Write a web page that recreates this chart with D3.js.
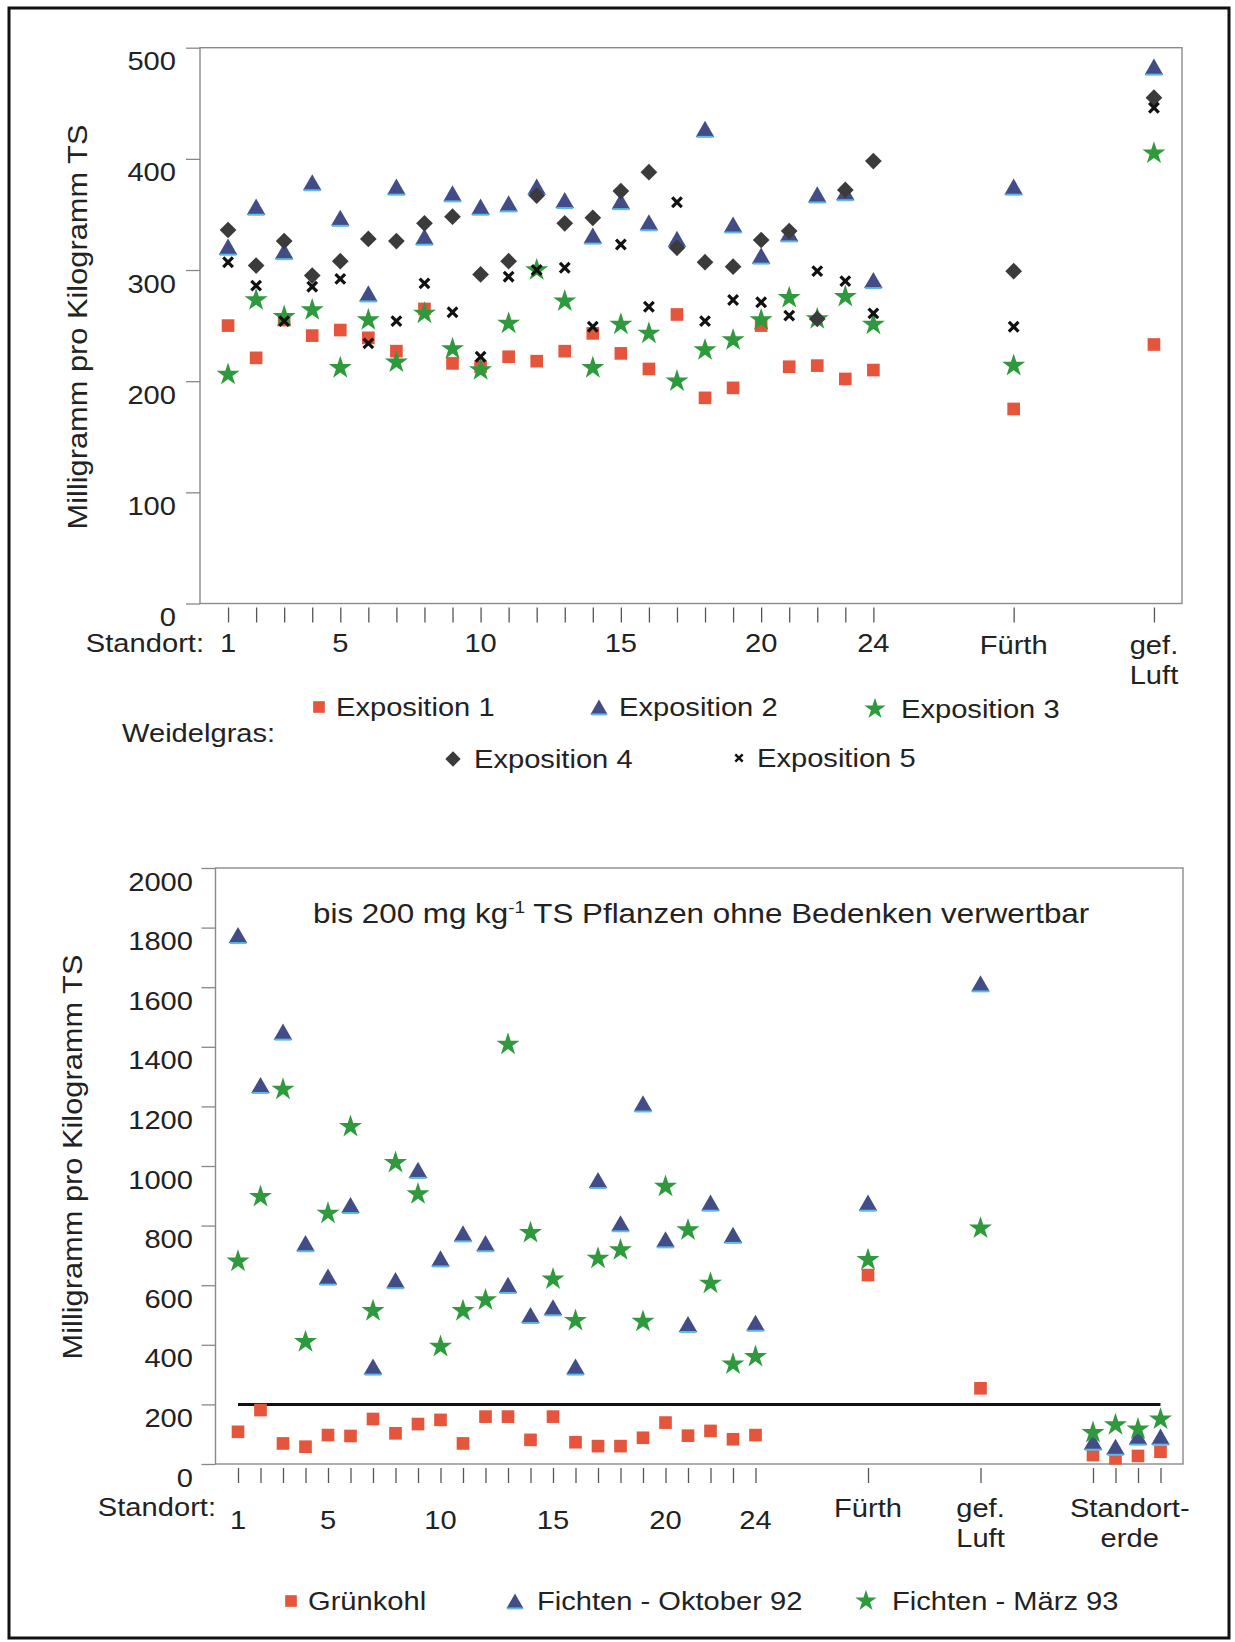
<!DOCTYPE html>
<html lang="de">
<head>
    <meta charset="UTF-8">
    <title>Weidelgras, Grünkohl und Fichten</title>
    <script src="https://d3js.org/d3.v7.min.js"></script>
    <style>
        body { margin: 0; background: #fff; }
        svg text { font-family: "Liberation Sans", Arial, Helvetica, sans-serif; fill: #222; }
    </style>
</head>
<body>
<div id="chart"></div>
<script>

// ---- data: upper panel (Weidelgras) ----
const weidelCategories = d3.range(1, 25).map(String).concat(["Fürth", "gef. Luft"]);
const exposition1 = [250, 221, 255, 241, 246, 239, 227, 265, 216, 213, 222, 218, 227, 243, 225, 211, 260, 185, 194, 250, 213, 214, 202, 210, 175, 233];
const exposition2 = [321, 357, 317, 379, 347, 279, 375, 330, 369, 357, 360, 375, 363, 331, 362, 343, 328, 427, 341, 313, 333, 368, 370, 291, 375, 483];
const exposition3 = [206, 273, 258, 264, 212, 255, 217, 261, 229, 210, 252, 300, 272, 212, 251, 243, 200, 228, 237, 255, 275, 256, 276, 251, 214, 405];
const exposition4 = [336, 304, 326, 295, 308, 328, 326, 342, 348, 296, 308, 367, 342, 347, 371, 388, 320, 307, 303, 327, 335, 256, 372, 398, 299, 455];
const exposition5 = [307, 286, 254, 285, 292, 234, 254, 288, 262, 222, 294, 300, 302, 249, 323, 267, 361, 254, 273, 271, 259, 299, 290, 261, 249, 446];
const weidelTicks = [0, 100, 200, 300, 400, 500];
const weidelXLabels = ["1", "5", "10", "15", "20", "24", "Fürth", "gef. Luft"];

// ---- data: lower panel (Grünkohl / Fichten) ----
const pflanzenCategories = d3.range(1, 25).map(String).concat(["Fürth", "gef. Luft", "Erde 1", "Erde 2", "Erde 3", "Erde 4"]);
const gruenkohl = [108, 181, 69, 58, 97, 94, 151, 103, 134, 148, 69, 159, 159, 81, 159, 73, 60, 60, 88, 139, 95, 111, 83, 97, 634, 254, 30, 19, 27, 41];
const fichtenOkt92 = [1775, 1272, 1451, 741, 629, 869, 327, 617, 987, 690, 774, 741, 601, 500, 526, 327, 953, 808, 1210, 754, 470, 877, 769, 474, 877, 1613, 75, 58, 92, 92];
const fichtenMaerz93 = [680, 897, 1257, 410, 841, 1132, 514, 1011, 906, 394, 514, 550, 1408, 776, 620, 481, 690, 718, 478, 931, 785, 606, 335, 360, 685, 791, 105, 131, 117, 150];
const pflanzenTicks = [0, 200, 400, 600, 800, 1000, 1200, 1400, 1600, 1800, 2000];
const pflanzenXLabels = ["1", "5", "10", "15", "20", "24", "Fürth", "gef. Luft"];
const grenzwert = 200;

const width = 1235;
const height = 1642;
const SX = 1.12;   // the scanned lettering is a bit wider than Arial

// position of each category on the x axis: sites 1..24, then a gap before each new group
function categoryPositions(cats) {
    const groupOf = c => /^\d+$/.test(c) ? "site" : c.replace(/ \d$/, "");
    let p = 0, prev = null;
    return cats.map(c => {
        const g = groupOf(c);
        p += (prev === null || g === prev) ? 1 : 5;
        prev = g;
        return p;
    });
}

const svg = d3.select("#chart").append("svg")
    .attr("width", width)
    .attr("height", height);

svg.append("rect")
    .attr("x", 9).attr("y", 8)
    .attr("width", 1220).attr("height", 1630)
    .attr("fill", "none")
    .attr("stroke", "#111")
    .attr("stroke-width", 3);

function addText(g, x, y, str, anchor, size) {
    return g.append("text")
        .attr("transform", `translate(${x},${y}) scale(${SX},1)`)
        .attr("text-anchor", anchor || "start")
        .attr("dy", "0.35em")
        .style("font-size", (size || 26) + "px")
        .text(str);
}

// marker drawing
const markerStyle = {
    square:   { sym: d3.symbolSquare, size: 160, fill: "#e4553b" },
    triangle: { sym: d3.symbolTriangle, size: 150, fill: "#424d88" },
    star:     { sym: d3.symbolStar, size: 165, fill: "#2f9a3d" },
    diamond:  { sym: d3.symbolSquare, size: 140, fill: "#3b3b3b" },
    cross:    { sym: d3.symbolX, size: 62, fill: "none" }
};

function drawMarkers(g, type, pts, scale) {
    const st = markerStyle[type];
    const size = st.size * (scale || 1);
    const path = d3.symbol(st.sym, size)();
    const ty = Math.sqrt(size / (Math.sqrt(3) * 3));   // triangle: half of centroid offset
    const sel = g.append("g").selectAll("path")
        .data(pts)
        .join("path")
        .attr("d", path)
        .attr("transform", d => {
            if (type === "diamond") return `translate(${d.x},${d.y}) rotate(45)`;
            if (type === "triangle") return `translate(${d.x},${d.y + ty / 2})`;
            return `translate(${d.x},${d.y})`;
        });
    if (type === "cross") {
        sel.attr("fill", "none").attr("stroke", "#111").attr("stroke-width", scale ? 2.4 : 3.2);
    } else {
        sel.attr("fill", st.fill);
    }
    if (type === "triangle") {
        g.append("g").selectAll("line")
            .data(pts)
            .join("line")
            .attr("x1", d => d.x - Math.sqrt(3) * ty + 1)
            .attr("x2", d => d.x + Math.sqrt(3) * ty - 1)
            .attr("y1", d => d.y + ty * 1.5)
            .attr("y2", d => d.y + ty * 1.5)
            .attr("stroke", "#5cbbe8")
            .attr("stroke-width", 2);
    }
}

function drawPanel(cfg) {
    const g = svg.append("g");
    const x = d3.scaleLinear().domain(cfg.xDomain).range([cfg.left, cfg.right]);
    const y = d3.scaleLinear().domain(cfg.yDomain).range([cfg.bottom, cfg.top]);
    const positions = categoryPositions(cfg.categories);

    // frame
    g.append("rect")
        .attr("x", cfg.left).attr("y", cfg.top)
        .attr("width", cfg.right - cfg.left).attr("height", cfg.bottom - cfg.top)
        .attr("fill", "none")
        .attr("stroke", "#8a8a8a")
        .attr("stroke-width", 1.4);

    // y axis
    g.append("g")
        .attr("transform", `translate(${cfg.left},0)`)
        .call(d3.axisLeft(y).tickValues(cfg.yTicks).tickSize(14).tickFormat(d3.format("d")))
        .call(a => a.select(".domain").remove())
        .call(a => a.selectAll(".tick line").attr("stroke", "#888").attr("stroke-width", 1.3))
        .call(a => a.selectAll(".tick text")
            .attr("x", null)
            .attr("fill", "#222")
            .attr("dy", "0.35em")
            .attr("transform", `translate(${-cfg.yLabelGap},13) scale(${SX},1)`)
            .style("font-size", "26px")
            .style("font-family", "'Liberation Sans', Arial, sans-serif"));

    // x ticks
    g.append("g")
        .attr("transform", `translate(0,${cfg.bottom + 4})`)
        .call(d3.axisBottom(x).tickValues(positions).tickSize(15).tickFormat(""))
        .call(a => a.select(".domain").remove())
        .call(a => a.selectAll(".tick line").attr("stroke", "#555").attr("stroke-width", 1.3));

    // x labels
    const lab = g.append("g");
    addText(lab, cfg.standortX, cfg.standortY, "Standort:", "end");
    cfg.xLabels.forEach(l => {
        const px = x(positions[cfg.categories.indexOf(l)]);
        const numeric = /^\d+$/.test(l);
        const lines = l === "gef. Luft" ? ["gef.", "Luft"] : [l];
        const y0 = numeric ? cfg.numY : cfg.textY;
        lines.forEach((s, k) => addText(lab, px, y0 + k * 30, s, "middle"));
    });

    // y title
    g.append("text")
        .attr("transform", `translate(${cfg.yTitleX},${cfg.yTitleY}) rotate(-90) scale(${SX},1)`)
        .attr("text-anchor", "middle")
        .attr("dy", "0.35em")
        .style("font-size", "27.5px")
        .text("Milligramm pro Kilogramm TS");

    return { g, x, y, positions };
}

// ================= upper panel =================
const upper = drawPanel({
    left: 200, right: 1182, top: 47.7, bottom: 603.5,
    xDomain: [0, 35], yDomain: [0, 500],
    yTicks: weidelTicks, yLabelGap: 24,
    categories: weidelCategories, xLabels: weidelXLabels,
    standortX: 204, standortY: 643, numY: 643, textY: 645,
    yTitleX: 77.5, yTitleY: 327
});

[[exposition1, "square"], [exposition2, "triangle"], [exposition3, "star"],
 [exposition4, "diamond"], [exposition5, "cross"]].forEach(([vals, type]) => {
    drawMarkers(upper.g, type, vals.map((v, i) => ({ x: upper.x(upper.positions[i]), y: upper.y(v) })));
});

// legend upper panel
const legTop = svg.append("g");
addText(legTop, 122, 733, "Weidelgras:");
[
    { type: "square", mx: 319, tx: 336, y: 707, text: "Exposition 1" },
    { type: "triangle", mx: 599, tx: 619, y: 707, text: "Exposition 2" },
    { type: "star", mx: 875, tx: 901, y: 709, text: "Exposition 3" },
    { type: "diamond", mx: 453, tx: 474, y: 759, text: "Exposition 4" },
    { type: "cross", mx: 739, tx: 757, y: 758, text: "Exposition 5" }
].forEach(d => {
    drawMarkers(legTop, d.type, [{ x: d.mx, y: d.y }], d.type === "cross" ? 0.6 : 0.85);
    addText(legTop, d.tx, d.y, d.text);
});

// ================= lower panel =================
const lower = drawPanel({
    left: 215.5, right: 1183, top: 868, bottom: 1464,
    xDomain: [0, 43], yDomain: [0, 2000],
    yTicks: pflanzenTicks, yLabelGap: 22.5,
    categories: pflanzenCategories, xLabels: pflanzenXLabels,
    standortX: 216, standortY: 1507, numY: 1520, textY: 1508,
    yTitleX: 72.5, yTitleY: 1157
});

// Standorterde group label
const erdePos = lower.positions.slice(-4);
const erdeX = lower.x(d3.mean(erdePos)) + 3;
addText(lower.g, erdeX, 1508, "Standort-", "middle");
addText(lower.g, erdeX, 1538, "erde", "middle");

// title inside the panel
const title = lower.g.append("text")
    .attr("transform", `translate(313,913) scale(${SX},1)`)
    .attr("dy", "0.35em")
    .style("font-size", "28px");
title.append("tspan").text("bis 200 mg kg");
title.append("tspan").attr("dy", -10).style("font-size", "17px").text("-1");
title.append("tspan").attr("dy", 10).text(" TS Pflanzen ohne Bedenken verwertbar");

// 200 mg/kg line
lower.g.append("line")
    .attr("x1", lower.x(lower.positions[0]))
    .attr("x2", lower.x(lower.positions[lower.positions.length - 1]))
    .attr("y1", lower.y(grenzwert))
    .attr("y2", lower.y(grenzwert))
    .attr("stroke", "#111")
    .attr("stroke-width", 3);

[[gruenkohl, "square"], [fichtenOkt92, "triangle"], [fichtenMaerz93, "star"]].forEach(([vals, type]) => {
    drawMarkers(lower.g, type, vals.map((v, i) => ({ x: lower.x(lower.positions[i]), y: lower.y(v) })));
});

// legend lower panel
const legBot = svg.append("g");
[
    { type: "square", mx: 291, tx: 308, text: "Grünkohl" },
    { type: "triangle", mx: 515, tx: 537, text: "Fichten - Oktober 92" },
    { type: "star", mx: 866, tx: 892, text: "Fichten - März 93" }
].forEach(d => {
    drawMarkers(legBot, d.type, [{ x: d.mx, y: 1601 }], 0.85);
    addText(legBot, d.tx, 1601, d.text);
});

</script>
</body>
</html>
